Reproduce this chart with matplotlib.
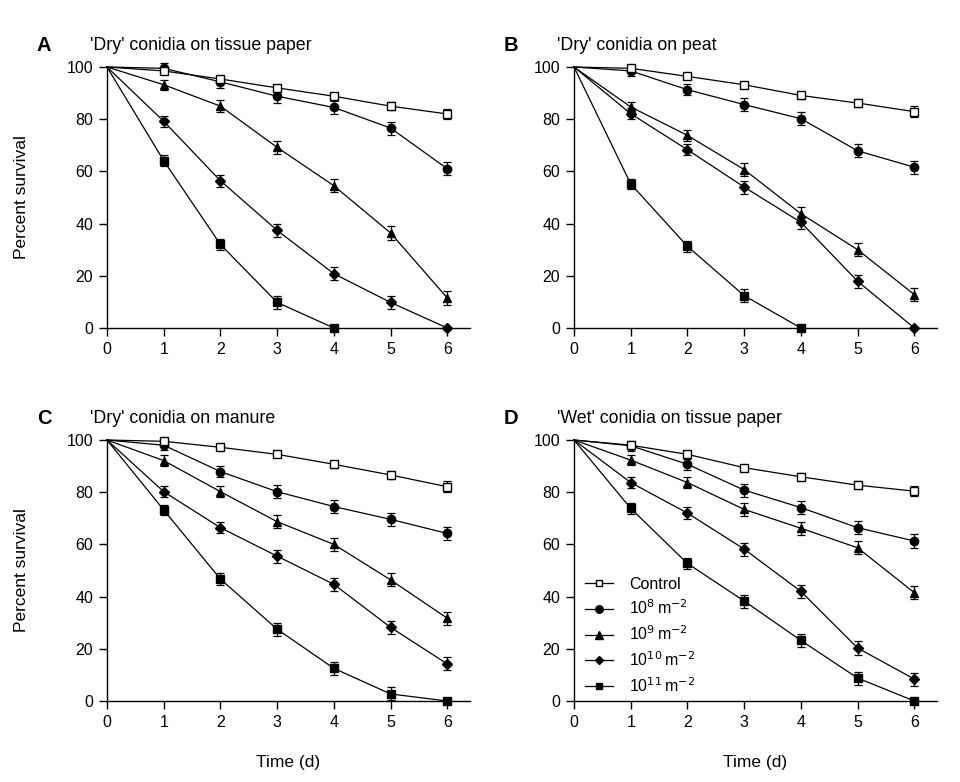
import matplotlib
matplotlib.use("Agg")
import matplotlib.pyplot as plt
from matplotlib.lines import Line2D
import numpy as np

plt.rcParams['font.family'] = ['Liberation Sans', 'DejaVu Sans']

days = [0, 1, 2, 3, 4, 5, 6]
series_labels = ["Control", r"10$^{8}\,$m$^{-2}$", r"10$^{9}\,$m$^{-2}$",
                 r"10$^{10}\,$m$^{-2}$", r"10$^{11}\,$m$^{-2}$"]
panel_letters = ["A", "B", "C", "D"]
panel_titles = ["'Dry' conidia on tissue paper", "'Dry' conidia on peat",
                "'Dry' conidia on manure", "'Wet' conidia on tissue paper"]

# Panel A
A_control = [100, 98.5, 95.4, 92.0, 88.8, 85.0, 82.0]
A_e8 = [100, 99.5, 94.3, 88.8, 84.5, 76.6, 61.0]
A_e9 = [100, 93.2, 85.0, 69.2, 54.5, 36.4, 11.5]
A_e10 = [100, 79.2, 56.4, 37.4, 20.8, 9.8, 0.0]
A_e11 = [100, 64.1, 32.0, 9.8, 0.0]
# Panel B
B_control = [100, 99.5, 96.4, 93.2, 89.1, 86.2, 82.9]
B_e8 = [100, 98.5, 91.3, 85.6, 80.2, 67.9, 61.6]
B_e9 = [100, 84.7, 73.8, 60.7, 43.8, 30.0, 12.8]
B_e10 = [100, 82.1, 68.3, 54.0, 40.5, 17.9, 0.0]
B_e11 = [100, 55.2, 31.3, 12.4, 0.0]
# Panel C
C_control = [100, 99.5, 97.2, 94.5, 90.7, 86.6, 82.1]
C_e8 = [100, 98.0, 87.9, 80.2, 74.5, 69.6, 64.2]
C_e9 = [100, 92.1, 80.2, 68.7, 60.0, 46.4, 31.7]
C_e10 = [100, 80.2, 66.4, 55.5, 44.7, 28.2, 14.2]
C_e11 = [100, 73.2, 46.7, 27.5, 12.5, 2.7, 0.0]
# Panel D
D_control = [100, 98.0, 94.5, 89.4, 85.9, 82.7, 80.4]
D_e8 = [100, 97.8, 90.7, 80.8, 74.1, 66.4, 61.3]
D_e9 = [100, 92.3, 83.7, 73.4, 66.2, 58.7, 41.5]
D_e10 = [100, 83.7, 72.0, 58.2, 42.0, 20.3, 8.4]
D_e11 = [100, 73.8, 52.7, 38.3, 23.2, 8.8, 0.0]

# error bar half-widths
err_control = [0, 1.0, 1.0, 1.2, 1.4, 1.5, 2.0]
err_treat = [0, 2.0, 2.2, 2.5, 2.5, 2.5, 2.5]

panels = [
    [A_control, A_e8, A_e9, A_e10, A_e11],
    [B_control, B_e8, B_e9, B_e10, B_e11],
    [C_control, C_e8, C_e9, C_e10, C_e11],
    [D_control, D_e8, D_e9, D_e10, D_e11],
]

markers = ['s', 'o', '^', 'D', 's']
msizes = [5.5, 6, 6, 5, 5.5]
faces = ['white', 'black', 'black', 'black', 'black']

fig = plt.figure(figsize=(9.6, 7.82), dpi=100)
W, H = 960, 782
boxes = [(107, 67, 470, 328), (574, 67, 937, 328),
         (107, 440, 470, 701), (574, 440, 937, 701)]

for i, (x0, y0, x1, y1) in enumerate(boxes):
    ax = fig.add_axes([x0 / W, 1 - y1 / H, (x1 - x0) / W, (y1 - y0) / H])
    for j in [4, 3, 2, 1, 0]:
        ys = panels[i][j]
        xs = days[:len(ys)]
        e = (err_control if j == 0 else err_treat)[:len(ys)]
        e = [v if (y > 0) else 0 for v, y in zip(e, ys)]
        ax.plot(xs, ys, color='black', lw=0.9, clip_on=False, zorder=2)
        ax.errorbar(xs[1:], ys[1:], yerr=e[1:], fmt='none', ecolor='black',
                    elinewidth=0.9, capsize=3.2, capthick=0.9, clip_on=False,
                    zorder=3)
        ax.plot(xs[1:], ys[1:], ls='none', marker=markers[j], ms=msizes[j],
                mfc=faces[j], mec='black', mew=1.0, clip_on=False, zorder=4)
    ax.set_xlim(0, 6.4)
    ax.set_ylim(0, 100)
    ax.set_xticks(days)
    ax.set_yticks([0, 20, 40, 60, 80, 100])
    ax.spines['top'].set_visible(False)
    ax.spines['right'].set_visible(False)
    ax.tick_params(direction='out', length=6, width=1, labelsize=11.5, pad=4)
    for s in ax.spines.values():
        s.set_linewidth(1.0)
    ax.text(-0.193, 1.084, panel_letters[i], transform=ax.transAxes,
            fontsize=14.5, fontweight='bold', va='center', ha='left')
    ax.text(-0.047, 1.084, panel_titles[i], transform=ax.transAxes,
            fontsize=12.8, va='center', ha='left')
    if i in (0, 2):
        ax.set_ylabel("Percent survival", fontsize=12.5, labelpad=27)
    if i in (2, 3):
        ax.set_xlabel("Time (d)", fontsize=12.5, labelpad=18)
    if i == 3:
        handles = [Line2D([], [], color='black', lw=0.9, marker=markers[j],
                          ms=msizes[j] * 0.9, mfc=faces[j], mec='black', mew=1.0)
                   for j in range(5)]
        ax.legend(handles, series_labels, loc='lower left',
                  bbox_to_anchor=(0.012, 0.0), borderaxespad=0.0, frameon=False,
                  fontsize=11.5, handlelength=1.8, labelspacing=0.44,
                  handletextpad=1.0)

fig.savefig("out.png", dpi=100)
